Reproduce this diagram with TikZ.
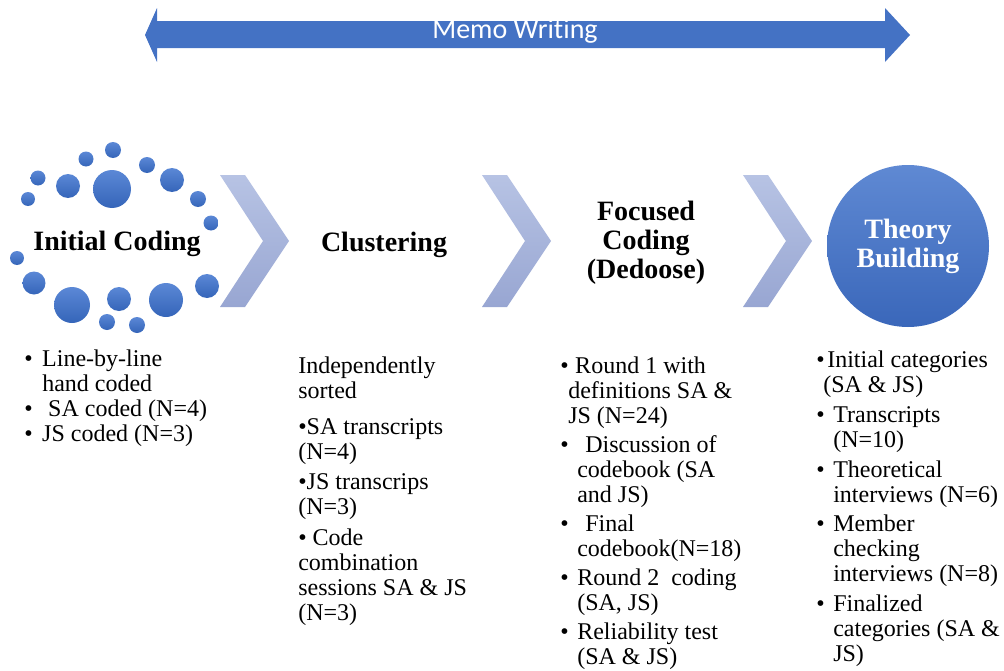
\documentclass[tikz,border=0pt]{standalone}
\usepackage{fontspec}
\setmainfont{Liberation Serif}
\newfontfamily\memofont[Ligatures=NoCommon]{Carlito}

\definecolor{memoblue}{HTML}{4472C4}
\definecolor{dottop}{HTML}{5B88D6}
\definecolor{dotbottom}{HTML}{3565B9}
\definecolor{chevtop}{HTML}{B7C3E4}
\definecolor{chevbottom}{HTML}{98A6D2}
\definecolor{balltop}{HTML}{5F89D3}
\definecolor{ballbottom}{HTML}{3A67BA}

\newcommand{\notebul}[1]{\makebox[#1][l]{\textbullet}}
\newcommand{\notepad}[1]{\makebox[#1]{}}

\tikzset{
  heading/.style={font=\bfseries\fontsize{21}{21.75}\selectfont, align=center, inner sep=0pt},
  notes/.style={font=\fontsize{18}{18.75}\selectfont, align=left, anchor=north west, inner sep=0pt},
  dot/.style={top color=dottop, bottom color=dotbottom},
  chevron/.style={top color=chevtop, bottom color=chevbottom}
}

\begin{document}
\begin{tikzpicture}[x=0.75pt,y=-0.75pt]
        \useasboundingbox (0,0) rectangle (1004,671);

        % memo writing arrow
        \fill[memoblue] (145,35) -- (157,8) -- (157,21) -- (885,21) -- (885,8) -- (910,35)
            -- (885,62) -- (885,48) -- (157,48) -- (157,62) -- cycle;
        \node[font=\memofont\fontsize{21}{21}\selectfont, text=white, inner sep=0pt] (memo) at (515,31) {Memo Writing};

        % ring of dots
        \foreach \x/\y/\r in {112/189/19, 68/186/12, 38/178/7.5, 28/199/7, 86/159/7.5, 113/150/8,
            147/165/8, 172/180/12, 198/199/8, 211/223/7.5, 17/258/7, 34/283/11.5, 72/305/18,
            119/299/12, 107/322/8, 137/325/8, 166/300/17, 207/286/12}
            \shade[dot] (\x,\y) circle[radius=\r];

        % chevrons
        \foreach \cx in {220,482,743}
            \shade[chevron] (\cx,175) -- ++(25,0) -- ++(44,66) -- ++(-44,66) -- ++(-25,0) -- ++(43,-66) -- cycle;

        \node[heading, anchor=base] (initial) at (117,250) {Initial Coding};
        \node[heading, anchor=base] (clustering) at (384,251) {Clustering};
        \node[heading] (focused) at (646,243) {Focused\\Coding\\(Dedoose)};
        \node[heading, circle, minimum size=121.5pt, top color=balltop, bottom color=ballbottom,
            text=white] (theory) at (908,246) {Theory\\Building};

        % notes under each step
        \node[notes] (initial-notes) at (24,350) {\notebul{13.5pt}Line-by-line\\
            \notepad{13.5pt}hand coded\\
            \notebul{18pt}SA coded (N=4)\\
            \notebul{13.5pt}JS coded (N=3)};
        \node[notes] (clustering-notes) at (298,357) {Independently\\
            sorted\\[8pt]
            \textbullet SA transcripts\\
            (N=4)\\[4pt]
            \textbullet JS transcrips\\
            (N=3)\\[4pt]
            \textbullet\ Code\\
            combination\\
            sessions SA \& JS\\
            (N=3)};
        \node[notes] (focused-notes) at (560,357) {\notebul{11.25pt}Round 1 with\\
            \notepad{6pt}definitions SA \&\\
            \notepad{6pt}JS (N=24)\\[3pt]
            \notebul{18.75pt}Discussion of\\
            \notepad{12.75pt}codebook (SA\\
            \notepad{12.75pt}and JS)\\[3pt]
            \notebul{18.75pt}Final\\
            \notepad{12.75pt}codebook(N=18)\\[3pt]
            \notebul{12.75pt}Round 2\ \ coding\\
            \notepad{12.75pt}(SA, JS)\\[3pt]
            \notebul{12.75pt}Reliability test\\
            \notepad{12.75pt}(SA \& JS)};
        \node[notes] (theory-notes) at (816,351) {\notebul{8.25pt}Initial categories\\
            \notepad{5.25pt}(SA \& JS)\\[3.5pt]
            \notebul{12.75pt}Transcripts\\
            \notepad{12.75pt}(N=10)\\[3.5pt]
            \notebul{12.75pt}Theoretical\\
            \notepad{12.75pt}interviews (N=6)\\[3.5pt]
            \notebul{12.75pt}Member\\
            \notepad{12.75pt}checking\\
            \notepad{12.75pt}interviews (N=8)\\[3.5pt]
            \notebul{12.75pt}Finalized\\
            \notepad{12.75pt}categories (SA \&\\
            \notepad{12.75pt}JS)};
\end{tikzpicture}
\end{document}
